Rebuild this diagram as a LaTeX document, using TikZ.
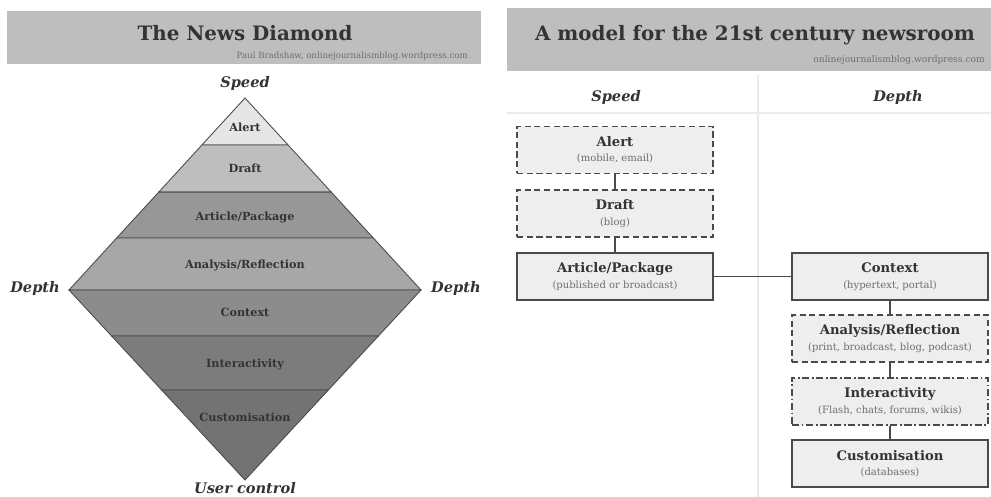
\documentclass[tikz,border=0pt]{standalone}
\usepackage{fontspec}
\setmainfont{DejaVu Serif}
\usetikzlibrary{calc}
\usetikzlibrary{positioning}

\definecolor{bannergray}{HTML}{BEBEBE}
\definecolor{inkgray}{HTML}{333333}
\definecolor{subgray}{HTML}{6E6E6E}
\definecolor{edgegray}{HTML}{4A4A4A}
\definecolor{rulegray}{HTML}{EBEBEB}
\definecolor{boxfill}{HTML}{EEEEEE}
\definecolor{alertgray}{HTML}{E6E6E6}
\definecolor{draftgray}{HTML}{BEBEBE}
\definecolor{articlegray}{HTML}{979797}
\definecolor{analysisgray}{HTML}{A7A7A7}
\definecolor{contextgray}{HTML}{8C8C8C}
\definecolor{interactgray}{HTML}{7C7C7C}
\definecolor{customgray}{HTML}{737373}

\tikzset{
  band/.style={draw=edgegray, line width=0.5pt},
  bandlabel/.style={font=\fontsize{6.4}{7.5}\selectfont\bfseries, text=inkgray},
  heading/.style={font=\fontsize{11.3}{13}\selectfont\bfseries, text=inkgray},
  credit/.style={font=\fontsize{4.9}{6}\selectfont, text=subgray},
  axislabel/.style={font=\fontsize{8.3}{10}\selectfont\bfseries\itshape, text=inkgray},
  stagebox/.style={draw=edgegray, fill=boxfill, line width=1pt, minimum width=3.92cm, minimum height=0.94cm, align=center, inner sep=1pt, text=inkgray},
  dashbox/.style={stagebox, dash pattern=on 3.5pt off 2pt},
  dotdashbox/.style={stagebox, dash pattern=on 4pt off 1.5pt on 1pt off 1.5pt},
  link/.style={draw=edgegray, line width=1.1pt},
}
\newcommand{\stagetext}[2]{{\fontsize{7.5}{8.3}\selectfont\bfseries #1}\\[-3.2pt]{\fontsize{5.7}{6.4}\selectfont\color{subgray}#2}}

\begin{document}
\begin{tikzpicture}[x=0.02cm, y=-0.02cm]
  \useasboundingbox (0,0) rectangle (991,497);

  % left: the news diamond
  \fill [bannergray] (7,11) rectangle (481,64); % banner
  \node [heading] (ltitle) at (245,33) {The News Diamond};
  \node [credit, anchor=east] (lcredit) at (474,56) {Paul Bradshaw, onlinejournalismblog.wordpress.com};

  \coordinate (top) at (245,98);
  \coordinate (lft) at (69,290);
  \coordinate (rgt) at (421,290);
  \coordinate (bot) at (245,480);

  \foreach \fa/\fb/\col in {0/0.245/alertgray, 0.245/0.49/draftgray, 0.49/0.729/articlegray, 0.729/1/analysisgray}
    \filldraw [band, fill=\col] ($(top)!\fa!(lft)$) -- ($(top)!\fb!(lft)$) -- ($(top)!\fb!(rgt)$) -- ($(top)!\fa!(rgt)$) -- cycle; % upper half
  \foreach \fa/\fb/\col in {0/0.242/contextgray, 0.242/0.526/interactgray, 0.526/1/customgray}
    \filldraw [band, fill=\col] ($(lft)!\fa!(bot)$) -- ($(lft)!\fb!(bot)$) -- ($(rgt)!\fb!(bot)$) -- ($(rgt)!\fa!(bot)$) -- cycle; % lower half

  \node [bandlabel] (dalert) at (245,127) {Alert};
  \node [bandlabel] (ddraft) at (245,168) {Draft};
  \node [bandlabel] (darticle) at (245,217) {Article/Package};
  \node [bandlabel] (danalysis) at (245,265) {Analysis/Reflection};
  \node [bandlabel] (dcontext) at (245,312) {Context};
  \node [bandlabel] (dinteract) at (245,364) {Interactivity};
  \node [bandlabel] (dcustom) at (245,417) {Customisation};

  \node [axislabel] (dspeed) at (245,83) {Speed};
  \node [axislabel, anchor=east] (ddepthl) at (66,288) {Depth};
  \node [axislabel, anchor=west] (ddepthr) at (425,288) {Depth};
  \node [axislabel, inner sep=1pt] (duser) at (245,488) {User control};

  % right: the newsroom model
  \fill [bannergray] (507,8) rectangle (991,71); % banner
  \node [heading] (rtitle) at (755,35) {A model for the 21st century newsroom};
  \node [credit, anchor=east, font=\fontsize{5.2}{6}\selectfont] (rcredit) at (991,60) {onlinejournalismblog.wordpress.com};
  \draw [rulegray, line width=0.8pt] (758,75) -- (758,497); % column divider
  \draw [rulegray, line width=0.8pt] (507,113) -- (991,113); % header rule
  \node [axislabel] (cspeed) at (616,97) {Speed};
  \node [axislabel] (cdepth) at (898,97) {Depth};

  \node [dashbox] (alert) at (615,150) {\stagetext{Alert}{(mobile, email)}};
  \node [dashbox] (draft) at (615,213.5) {\stagetext{Draft}{(blog)}};
  \node [stagebox] (article) at (615,276.5) {\stagetext{Article/Package}{(published or broadcast)}};
  \node [stagebox] (context) at (890,276.5) {\stagetext{Context}{(hypertext, portal)}};
  \node [dashbox] (analysis) at (890,338.5) {\stagetext{Analysis/Reflection}{(print, broadcast, blog, podcast)}};
  \node [dotdashbox] (interact) at (890,401.5) {\stagetext{Interactivity}{(Flash, chats, forums, wikis)}};
  \node [stagebox] (custom) at (890,463.5) {\stagetext{Customisation}{(databases)}};

  \draw [link] (alert) -- (draft);
  \draw [link] (draft) -- (article);
  \draw [link] (article) -- (context);
  \draw [link] (context) -- (analysis);
  \draw [link] (analysis) -- (interact);
  \draw [link] (interact) -- (custom);
\end{tikzpicture}
\end{document}
